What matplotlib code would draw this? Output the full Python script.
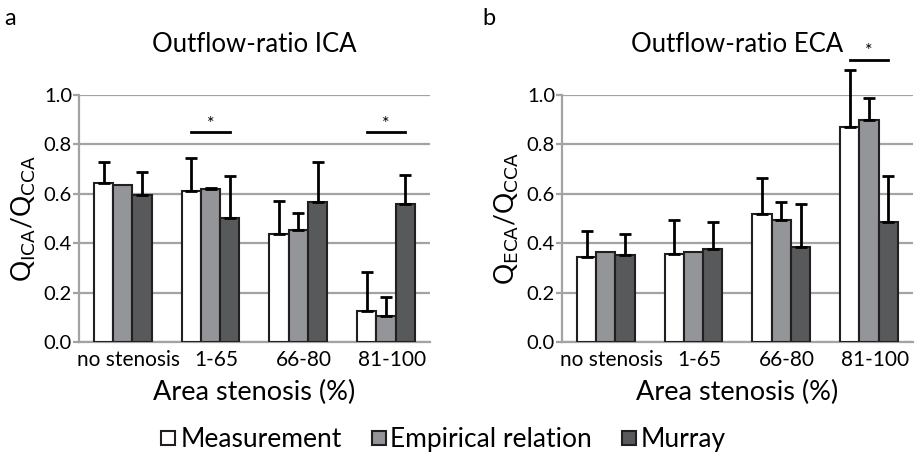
import matplotlib
matplotlib.use("Agg")
import matplotlib.pyplot as plt
from matplotlib.lines import Line2D
import numpy as np

plt.rcParams['font.family'] = ['Lato', 'DejaVu Sans']

groups = ["no stenosis", "1-65", "66-80", "81-100"]
series = ["Measurement", "Empirical relation", "Murray"]
colors = ["#ffffff", "#939598", "#58595b"]

# ICA outflow ratio (mean, upper sd)
ica_meas = [0.645, 0.612, 0.436, 0.127]
ica_meas_err = [0.085, 0.135, 0.136, 0.158]
ica_emp = [0.634, 0.619, 0.453, 0.104]
ica_emp_err = [0.0, 0.004, 0.069, 0.078]
ica_murray = [0.597, 0.504, 0.568, 0.557]
ica_murray_err = [0.092, 0.169, 0.162, 0.121]

# ECA outflow ratio
eca_meas = [0.345, 0.357, 0.517, 0.871]
eca_meas_err = [0.103, 0.137, 0.147, 0.229]
eca_emp = [0.364, 0.364, 0.494, 0.900]
eca_emp_err = [0.0, 0.0, 0.072, 0.088]
eca_murray = [0.353, 0.375, 0.386, 0.487]
eca_murray_err = [0.085, 0.112, 0.173, 0.186]

# significance markers: (group index, height)
ica_sig = [(1, 0.849), (3, 0.849)]
eca_sig = [(3, 1.143)]

EDGE = "#231f20"
GRID = "#a3a3a3"
W = 0.22


def panel(ax, vals, errs, sig, title, ylab):
    x = np.arange(len(groups))
    for i in range(3):
        xs = x + (i - 1) * W
        ax.bar(xs, vals[i], W, color=colors[i], edgecolor=EDGE, linewidth=1.5, zorder=3)
        e = np.array(errs[i])
        m = e > 0
        if m.any():
            cont = ax.errorbar(xs[m], np.array(vals[i])[m], yerr=[np.zeros(m.sum()), e[m]],
                               fmt='none', ecolor='black', elinewidth=2, capsize=4.5,
                               capthick=2, zorder=4)
            for ch in cont.get_children():
                ch.set_clip_on(False)
    for g, h in sig:
        ax.plot([g - W, g + W], [h, h], color='black', lw=2, clip_on=False, zorder=5)
        ax.text(g, h + 0.003, "*", ha='center', va='bottom', fontsize=13, clip_on=False)

    ax.set_xlim(-0.5, 3.5)
    ax.set_ylim(0, 1.0)
    ax.set_yticks(np.arange(0, 1.01, 0.2))
    ax.set_yticklabels(["%.1f" % v for v in np.arange(0, 1.01, 0.2)])
    ax.yaxis.grid(True, color=GRID, lw=1.6, zorder=0)
    ax.set_axisbelow(True)
    ax.set_xticks(x + 0.07)
    ax.set_xticklabels(groups)
    ax.tick_params(axis='x', length=0, labelsize=15, pad=6)
    ax.tick_params(axis='y', length=4, width=1.6, color=GRID, labelsize=14.5, pad=1)
    for s in ["top", "right"]:
        ax.spines[s].set_visible(False)
    for s in ["left", "bottom"]:
        ax.spines[s].set_color(GRID)
        ax.spines[s].set_linewidth(1.6)
    ax.set_title(title, fontsize=18.5, pad=31)
    ax.set_xlabel("Area stenosis (%)", fontsize=19.5, labelpad=7)
    ax.set_ylabel(ylab, fontsize=19, labelpad=4)


fig = plt.figure(figsize=(9.16, 4.58), dpi=100)
ax1 = fig.add_axes([0.0862, 0.2533, 0.383, 0.539])
ax2 = fig.add_axes([0.6135, 0.2533, 0.383, 0.539])

panel(ax1, [ica_meas, ica_emp, ica_murray], [ica_meas_err, ica_emp_err, ica_murray_err],
      ica_sig, "Outflow-ratio ICA", r"Q$_{\rm ICA}$/Q$_{\rm CCA}$")
panel(ax2, [eca_meas, eca_emp, eca_murray], [eca_meas_err, eca_emp_err, eca_murray_err],
      eca_sig, "Outflow-ratio ECA", r"Q$_{\rm ECA}$/Q$_{\rm CCA}$")

fig.text(0.005, 0.96, "a", fontsize=17, va='center')
fig.text(0.527, 0.96, "b", fontsize=17, va='center')

handles = [Line2D([], [], marker='s', ls='none', markersize=10, markerfacecolor=c,
                  markeredgecolor=EDGE, markeredgewidth=1.5) for c in colors]
fig.legend(handles, series, loc='center', bbox_to_anchor=(0.484, 0.04), ncol=3,
           frameon=False, fontsize=19, handlelength=0.6, handletextpad=0.15,
           columnspacing=1.1)

fig.savefig("out.png", dpi=100)
